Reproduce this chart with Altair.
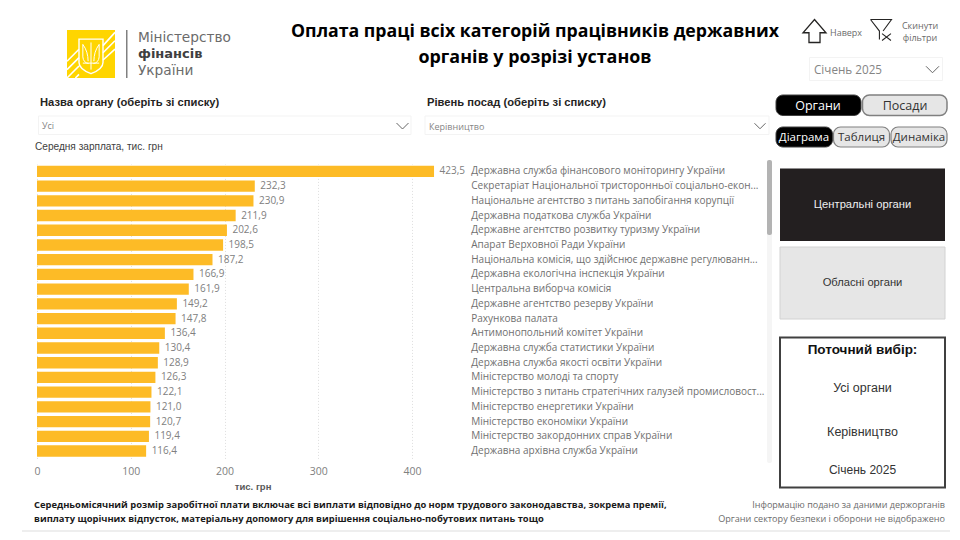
import altair as alt
import pandas as pd

organs = [
    "Державна служба фінансового моніторингу України",
    "Секретаріат Національної тристоронньої соціально-екон...",
    "Національне агентство з питань запобігання корупції",
    "Державна податкова служба України",
    "Державне агентство розвитку туризму України",
    "Апарат Верховної Ради України",
    "Національна комісія, що здійснює державне регулюванн...",
    "Державна екологічна інспекція України",
    "Центральна виборча комісія",
    "Державне агентство резерву України",
    "Рахункова палата",
    "Антимонопольний комітет України",
    "Державна служба статистики України",
    "Державна служба якості освіти України",
    "Міністерство молоді та спорту",
    "Міністерство з питань стратегічних галузей промисловост...",
    "Міністерство енергетики України",
    "Міністерство економіки України",
    "Міністерство закордонних справ України",
    "Державна архівна служба України",
]
salaries = [423.5, 232.3, 230.9, 211.9, 202.6, 198.5, 187.2, 166.9, 161.9, 149.2,
            147.8, 136.4, 130.4, 128.9, 126.3, 122.1, 121.0, 120.7, 119.4, 116.4]
x_ticks = [0, 100, 200, 300, 400]

OX, OY = 37, 164          # page position of the plot area
W, H = 431.25, 294.4
FONT = "Open Sans"
ARIAL = "Liberation Sans"
LOGO = "DejaVu Sans"

df = pd.DataFrame({"organ": organs, "salary": salaries})
one = alt.Data(values=[{"k": 1}])

def box(x1, y1, x2, y2, fill="#ffffff", stroke=None, sw=1, r=0):
    kw = dict(fill=fill, strokeWidth=sw, cornerRadius=r)
    if stroke:
        kw["stroke"] = stroke
    return alt.Chart(one).mark_rect(**kw).encode(
        x=alt.value(x1 - OX), x2=alt.value(x2 - OX),
        y=alt.value(y1 - OY), y2=alt.value(y2 - OY))

def label(x, y, s, size=11, color="#252423", weight="normal", align="left", font=FONT):
    return alt.Chart(one).mark_text(
        text=s, fontSize=size, color=color, fontWeight=weight, align=align,
        baseline="middle", font=font).encode(
        x=alt.value(x - OX), y=alt.value(y - OY))

def glyph(cx, cy, span, path, stroke="#404040", sw=1.2, fill=None):
    kw = dict(shape=path, size=span * span, stroke=stroke, strokeWidth=sw, opacity=1)
    kw.update(dict(filled=True, fill=fill) if fill else dict(filled=False))
    return alt.Chart(one).mark_point(**kw).encode(
        x=alt.value(cx - OX), y=alt.value(cy - OY))

CHEVRON = "M-1,-0.5 L0,0.5 L1,-0.5"
ARROW = "M0,-1 L1,0.15 L0.48,0.15 L0.48,1 L-0.48,1 L-0.48,0.15 L-1,0.15 Z"
FUNNEL = "M-1,-1 L1,-1 L0.2,0.1 M-1,-1 L-0.15,0.1 L-0.15,0.9 M0.1,0.35 L0.95,1 M0.95,0.35 L0.1,1"
STRIPES = ("M0.5,-0.35 L1,-0.9 M0.5,-0.05 L1,-0.55 M0.5,0.25 L1,-0.2 "
           "M-1,0.3 L-0.5,-0.2 M-1,0.65 L-0.5,0.15 M-1,1 L-0.5,0.5 M-0.65,1 L-0.5,0.85")
SHIELD = "M-0.5,-0.62 L0.5,-0.62 L0.5,0.35 Q0.5,0.62 0,0.82 Q-0.5,0.62 -0.5,0.35 Z"
TRIDENT = ("M0,-0.48 L0,0.65 M-0.34,-0.4 L-0.34,0.12 Q-0.32,0.36 -0.1,0.4 "
           "M0.34,-0.4 L0.34,0.12 Q0.32,0.36 0.1,0.4 M-0.34,-0.4 Q-0.12,-0.1 -0.12,0.3 "
           "M0.34,-0.4 Q0.12,-0.1 0.12,0.3 M-0.34,0.38 L0.34,0.38")

base = alt.Chart(df).transform_calculate(
    shown="replace(format(datum.salary, '.1f'), '.', ',')")
x_enc = alt.X("salary:Q", scale=alt.Scale(domain=[0, 460], nice=False),
              axis=alt.Axis(values=x_ticks, title="тис. грн", domain=False, ticks=False,
                            grid=True, gridColor="#dedede", gridDash=[1, 2],
                            labelColor="#808080", labelFontSize=10.5, labelFont=FONT,
                            labelFlush=False, labelPadding=8, titleColor="#595959",
                            titleFontSize=9.5, titleFont=ARIAL, titleFontWeight="bold",
                            titlePadding=5))
y_enc = alt.Y("organ:N", sort=None,
              scale=alt.Scale(paddingInner=0.23, paddingOuter=0.115),
              axis=alt.Axis(orient="right", title=None, domain=False, ticks=False,
                            grid=False, labelColor="#707070", labelFontSize=10,
                            labelFont=FONT, labelLimit=400, labelPadding=2.5))
bars = base.mark_bar(color="#FDBB26").encode(x=x_enc, y=y_enc)
values = base.mark_text(align="left", dx=5.5, fontSize=10, font=FONT, color="#808080").encode(
    x="salary:Q", y=alt.Y("organ:N", sort=None), text="shown:N")

layers = [
    # logo
    box(67, 30, 115, 78, fill="#FFD500"),
    glyph(91, 54, 48, STRIPES, stroke="#ffffff", sw=1.6),
    glyph(91, 54, 48, SHIELD, stroke="#ffffff", sw=1.4),
    glyph(91, 54, 48, TRIDENT, stroke="#ffffff", sw=1),
    box(126, 30, 127.5, 78, fill="#808080"),
    label(138, 37.5, "Міністерство", 13.7, "#6b6b6b", font=LOGO),
    label(138, 54, "фінансів", 13, "#404040", "bold", font=LOGO),
    label(138, 70.5, "України", 13.7, "#6b6b6b", font=LOGO),
    # title
    label(535, 32, "Оплата праці всіх категорій працівників державних", 17.7, "#000000", "bold", "center"),
    label(535, 58, "органів у розрізі установ", 17.9, "#000000", "bold", "center"),
    # top-right tools
    glyph(814.5, 31, 23, ARROW, stroke="#252423", sw=1.3),
    label(830, 33, "Наверх", 9, "#6b6b6b"),
    glyph(881, 30, 21, FUNNEL, stroke="#252423", sw=1.1),
    label(920, 26, "Скинути", 9, "#6b6b6b", align="center"),
    label(920, 38, "фільтри", 9, "#6b6b6b", align="center"),
    box(809.5, 57.5, 942.5, 80.5, stroke="#f3f3f3"),
    label(814, 70, "Січень 2025", 11.7, "#858585"),
    glyph(932.5, 69.5, 13, CHEVRON, stroke="#666666", sw=1),
    # buttons
    box(776, 95, 861, 115.5, fill="#000000", stroke="#404040", sw=1, r=7),
    label(818, 105.5, "Органи", 12.5, "#ffffff", align="center"),
    box(862.5, 95, 947, 115.5, fill="#e6e6e6", stroke="#808080", sw=1.5, r=7),
    label(905, 105.5, "Посади", 12.5, "#333333", align="center"),
    box(776, 127, 832.5, 147, fill="#000000", stroke="#404040", sw=1, r=7),
    label(804, 138, "Діаграма", 11.5, "#ffffff", align="center"),
    box(833.5, 127, 889.5, 147, fill="#e6e6e6", stroke="#808080", sw=1.2, r=7),
    label(861.5, 138, "Таблиця", 11.5, "#333333", align="center"),
    box(891, 127, 947, 147, fill="#e6e6e6", stroke="#808080", sw=1.2, r=7),
    label(919, 138, "Динаміка", 11.5, "#333333", align="center"),
    # slicers
    label(40, 103, "Назва органу (оберіть зі списку)", 11.2, "#252423", "bold", font=ARIAL),
    box(38.5, 116, 411, 134.5, stroke="#f3f3f3"),
    label(42, 126, "Усі", 9, "#858585"),
    glyph(402.5, 126, 12, CHEVRON, stroke="#666666", sw=1),
    label(427, 103, "Рівень посад (оберіть зі списку)", 11.2, "#252423", "bold", font=ARIAL),
    box(425, 116, 769, 134.5, stroke="#f3f3f3"),
    label(429, 127, "Керівництво", 9, "#858585"),
    glyph(760, 126, 11, CHEVRON, stroke="#666666", sw=1),
    label(35, 147, "Середня зарплата, тис. грн", 10.1, "#404040", font=ARIAL),
    # scrollbar
    box(767, 160, 772, 463, fill="#f5f5f5", r=2),
    box(767, 160, 772, 235, fill="#b3b3b3", r=2),
    # right cards
    box(780, 168.5, 945, 241, fill="#231f20"),
    label(862.5, 204.5, "Центральні органи", 11.2, "#f0f0f0", align="center", font=ARIAL),
    box(780, 247, 945, 319, fill="#e6e6e6", stroke="#d2d2d2"),
    label(862.5, 283, "Обласні органи", 11.2, "#333333", align="center", font=ARIAL),
    box(780, 337.5, 945, 487.5, stroke="#404040", sw=2),
    label(862.5, 350, "Поточний вибір:", 13.5, "#111111", "bold", "center", font=ARIAL),
    label(862.5, 388, "Усі органи", 12.5, "#333333", align="center", font=ARIAL),
    label(862.5, 432, "Керівництво", 12.5, "#333333", align="center", font=ARIAL),
    label(862.5, 470, "Січень 2025", 12, "#333333", align="center", font=ARIAL),
    # chart
    bars,
    values,
    # footer
    label(34, 505, "Середньомісячний розмір заробітної плати включає всі виплати відповідно до норм трудового законодавства, зокрема премії,", 9.37, "#1a1a1a", "bold"),
    label(34, 519, "виплату щорічних відпусток, матеріальну допомогу для вирішення соціально-побутових питань тощо", 9.4, "#1a1a1a", "bold"),
    label(945, 505, "Інформацію подано за даними держорганів", 9, "#6b6b6b", align="right"),
    label(945, 519, "Органи сектору безпеки і оборони не відображено", 9.1, "#6b6b6b", align="right"),
    box(22, 530, 950, 532, fill="#eeeeee"),
]

chart = alt.layer(*layers).resolve_scale(x="shared", y="shared").properties(
    width=W, height=H,
    autosize=alt.AutoSizeParams(type="none"),
    padding={"left": OX - 8, "top": OY - 8, "right": 944 - (OX - 8) - W, "bottom": 524 - (OY - 8) - H},
    background="#ffffff",
).configure_view(stroke=None)

chart.save("out.html", embed_options={"renderer": "svg", "actions": False})
